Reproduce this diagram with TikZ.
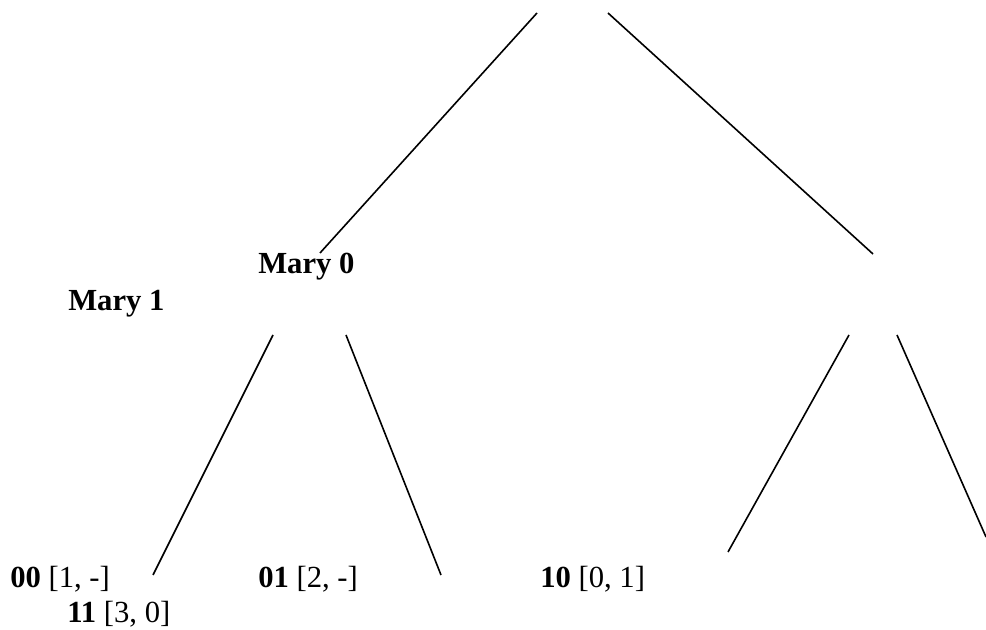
\documentclass[tikz,border=0pt]{standalone}
\usepackage{fontspec}
\setmainfont{Liberation Serif}
\begin{document}
\begin{tikzpicture}[x=0.75pt,y=-0.75pt,lbl/.style={anchor=base west,inner sep=0pt,font=\fontsize{23}{27}\selectfont},edge/.style={line width=1.2pt}]
\useasboundingbox (0,0) rectangle (986,630);
% end points of the branches
\coordinate (rootL) at (537,13);
\coordinate (rootR) at (608,13);
\coordinate (m0top) at (320,253);
\coordinate (m1top) at (873,254);
\coordinate (m0L) at (273,335);
\coordinate (m0R) at (346,335);
\coordinate (m1L) at (849,335);
\coordinate (m1R) at (897,335);
\coordinate (e00) at (153,575);
\coordinate (e01) at (441,575);
\coordinate (e10) at (728,552);
\coordinate (e11) at (986,537);
\draw[edge] (rootL) -- (m0top);
\draw[edge] (rootR) -- (m1top);
\draw[edge] (m0L) -- (e00);
\draw[edge] (m0R) -- (e01);
\draw[edge] (m1L) -- (e10);
\draw[edge] (m1R) -- (e11);
% labels
\node[lbl] (mary0) at (258,274) {\textbf{Mary 0}};
\node[lbl] (mary1) at (68,311) {\textbf{Mary 1}};
\node[lbl] (t00) at (10,588) {\textbf{00} [1, -]};
\node[lbl] (t11) at (67,623) {\textbf{11} [3, 0]};
\node[lbl] (t01) at (258,588) {\textbf{01} [2, -]};
\node[lbl] (t10) at (540,588) {\textbf{10} [0, 1]};
\end{tikzpicture}
\end{document}
